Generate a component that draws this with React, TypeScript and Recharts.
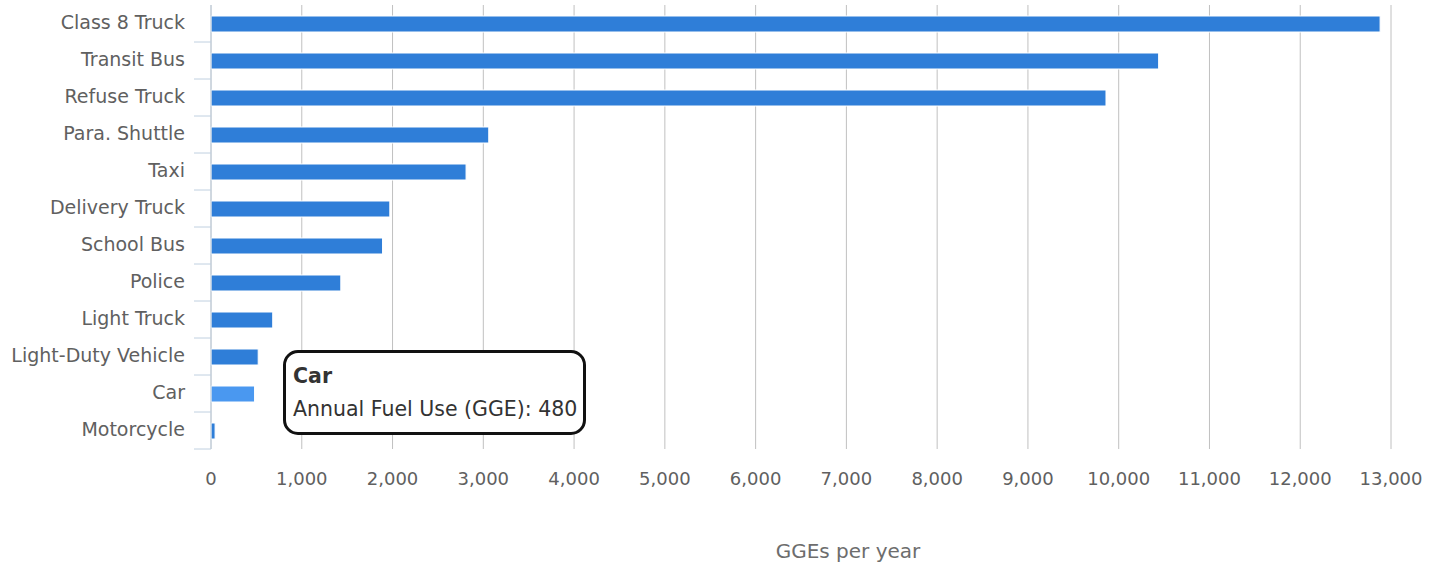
import React from 'react';
import { BarChart, Bar, XAxis, YAxis, CartesianGrid, Tooltip, Cell } from 'recharts';

const categories = [
  'Class 8 Truck',
  'Transit Bus',
  'Refuse Truck',
  'Para. Shuttle',
  'Taxi',
  'Delivery Truck',
  'School Bus',
  'Police',
  'Light Truck',
  'Light-Duty Vehicle',
  'Car',
  'Motorcycle',
];
const fuelUse = [12880, 10440, 9860, 3060, 2810, 1970, 1890, 1430, 680, 520, 480, 45];
const xTicks = [0, 1000, 2000, 3000, 4000, 5000, 6000, 7000, 8000, 9000, 10000, 11000, 12000, 13000];
const seriesName = 'Annual Fuel Use (GGE)';
const axisTitle = 'GGEs per year';
const highlightedCategory = 'Car';

const data = categories.map((name, i) => ({ name, value: fuelUse[i] }));

const W = 1436;
const H = 565;
const MARGIN = { top: 5, right: 45, left: 0, bottom: 0 };
const X_AXIS_H = 116;
const Y_AXIS_W = 211;
const BAND = (H - MARGIN.top - X_AXIS_H) / categories.length;
const FONT = "'DejaVu Sans', Verdana, sans-serif";

const YTick = (props: any) => {
  const { x, y, payload } = props;
  const half = BAND / 2;
  return (
    <g>
      <line x1={x - 17} x2={x} y1={y + half} y2={y + half} stroke="#c0d0e0" strokeWidth={1} />
      <text
        x={x - 26}
        y={y - 1}
        dy="0.36em"
        textAnchor="end"
        fill="#606060"
        fontSize={19}
        fontFamily={FONT}
      >
        {payload.value}
      </text>
    </g>
  );
};

const XTick = (props: any) => {
  const { x, y, payload } = props;
  return (
    <text x={x} y={y + 36} textAnchor="middle" fill="#606060" fontSize={18} fontFamily={FONT}>
      {Number(payload.value).toLocaleString('en-US')}
    </text>
  );
};

const XTitle = (props: any) => {
  const vb = props.viewBox || {};
  const cx = (vb.x ?? 0) + (vb.width ?? 0) / 2 + 47;
  return (
    <text x={cx} y={558} textAnchor="middle" fill="#6d6d6d" fontSize={20} fontFamily={FONT}>
      {axisTitle}
    </text>
  );
};

const TipContent = (props: any) => {
  const { payload } = props;
  if (!payload || !payload.length) return null;
  const p = payload[0];
  return (
    <div
      style={{
        boxSizing: 'border-box',
        width: 303,
        height: 85,
        background: '#ffffff',
        border: '3px solid #111111',
        borderRadius: 15,
        padding: '7px 7px',
        fontFamily: FONT,
        fontSize: 20.5,
        lineHeight: '33px',
        color: '#333333',
        whiteSpace: 'nowrap',
      }}
    >
      <div style={{ fontWeight: 'bold' }}>{p.payload.name}</div>
      <div>
        {seriesName}: {Number(p.value).toLocaleString('en-US')}
      </div>
    </div>
  );
};

export default function App() {
  return (
    <div style={{ position: 'absolute', left: 0, top: 0, width: W, height: H, background: '#ffffff' }}>
      <BarChart width={W} height={H} data={data} layout="vertical" margin={MARGIN}>
        <CartesianGrid vertical horizontal={false} stroke="#c0c0c0" strokeWidth={1} />
        <XAxis
          type="number"
          domain={[0, 13000]}
          ticks={xTicks}
          interval={0}
          height={X_AXIS_H}
          axisLine={false}
          tickLine={false}
          tickSize={0}
          tickMargin={0}
          tick={<XTick />}
          label={<XTitle />}
        />
        <YAxis
          type="category"
          dataKey="name"
          width={Y_AXIS_W}
          interval={0}
          axisLine={{ stroke: '#c0d0e0', strokeWidth: 1 }}
          tickLine={false}
          tickSize={0}
          tickMargin={0}
          tick={<YTick />}
        />
        <Tooltip
          active={true}
          defaultIndex={10}
          position={{ x: 283, y: 350 }}
          cursor={false}
          isAnimationActive={false}
          content={<TipContent />}
          wrapperStyle={{ outline: 'none' }}
        />
        <Bar dataKey="value" name={seriesName} barSize={16} stroke="#ffffff" strokeWidth={1} isAnimationActive={false}>
          {data.map((d) => (
            <Cell key={d.name} fill={d.name === highlightedCategory ? '#4a98f0' : '#2f7ed8'} />
          ))}
        </Bar>
      </BarChart>
    </div>
  );
}
